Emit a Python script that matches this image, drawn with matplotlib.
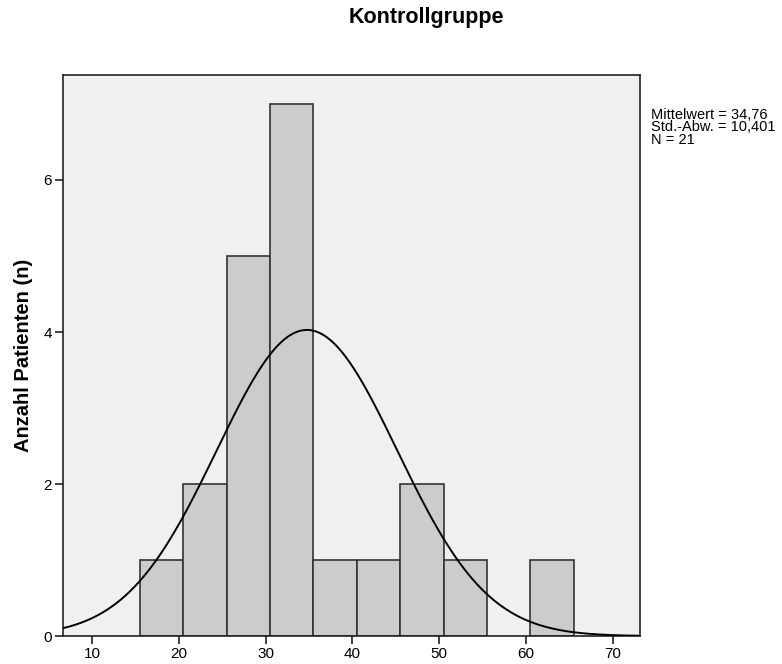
import numpy as np
import matplotlib.pyplot as plt

plt.rcParams['font.family'] = ['Liberation Sans', 'DejaVu Sans']

# histogram bins (width 5) and patient counts
bin_edges = [15.5, 20.5, 25.5, 30.5, 35.5, 40.5, 45.5, 50.5, 55.5, 60.5, 65.5]
counts = [1, 2, 5, 7, 1, 1, 2, 1, 0, 1]

mean = 34.76
std = 10.401
n = 21

fig = plt.figure(figsize=(7.82, 6.64), dpi=100)
ax = fig.add_axes([0.0806, 0.042, 0.7374, 0.845])
ax.set_facecolor('#f0f0f0')

lefts = np.array(bin_edges[:-1])
widths = np.diff(bin_edges)
for left, w, c in zip(lefts, widths, counts):
    if c > 0:
        ax.bar(left, c, width=w, align='edge', color='#cccccc',
               edgecolor='#333333', linewidth=1.2, zorder=2)

# normal curve scaled to counts
xs = np.linspace(6.65, 73.1, 400)
bw = widths[0]
ys = n * bw * np.exp(-0.5 * ((xs - mean) / std) ** 2) / (std * np.sqrt(2 * np.pi))
ax.plot(xs, ys, color='black', linewidth=1.4, zorder=3)

ax.set_xlim(6.65, 73.1)
ax.set_ylim(0, 7.38)
ax.set_xticks([10, 20, 30, 40, 50, 60, 70])
ax.set_yticks([0, 2, 4, 6])
ax.tick_params(axis='both', labelsize=11, length=6, width=1.2, color='#222222',
               pad=2)
for s in ax.spines.values():
    s.set_linewidth(1.2)
    s.set_color('#222222')

fig.text(0.03, 0.465, 'Anzahl Patienten (n)', fontsize=14.5, fontweight='bold',
         rotation=90, ha='center', va='center')

fig.text(0.545, 0.973, 'Kontrollgruppe', fontsize=15.5, fontweight='bold',
         ha='center', va='center')
fig.text(0.833, 0.838,
         'Mittelwert = 34,76\nStd.-Abw. = 10,401\nN = 21',
         fontsize=10.5, ha='left', va='top', linespacing=0.9)

fig.savefig('out.png', dpi=100)
